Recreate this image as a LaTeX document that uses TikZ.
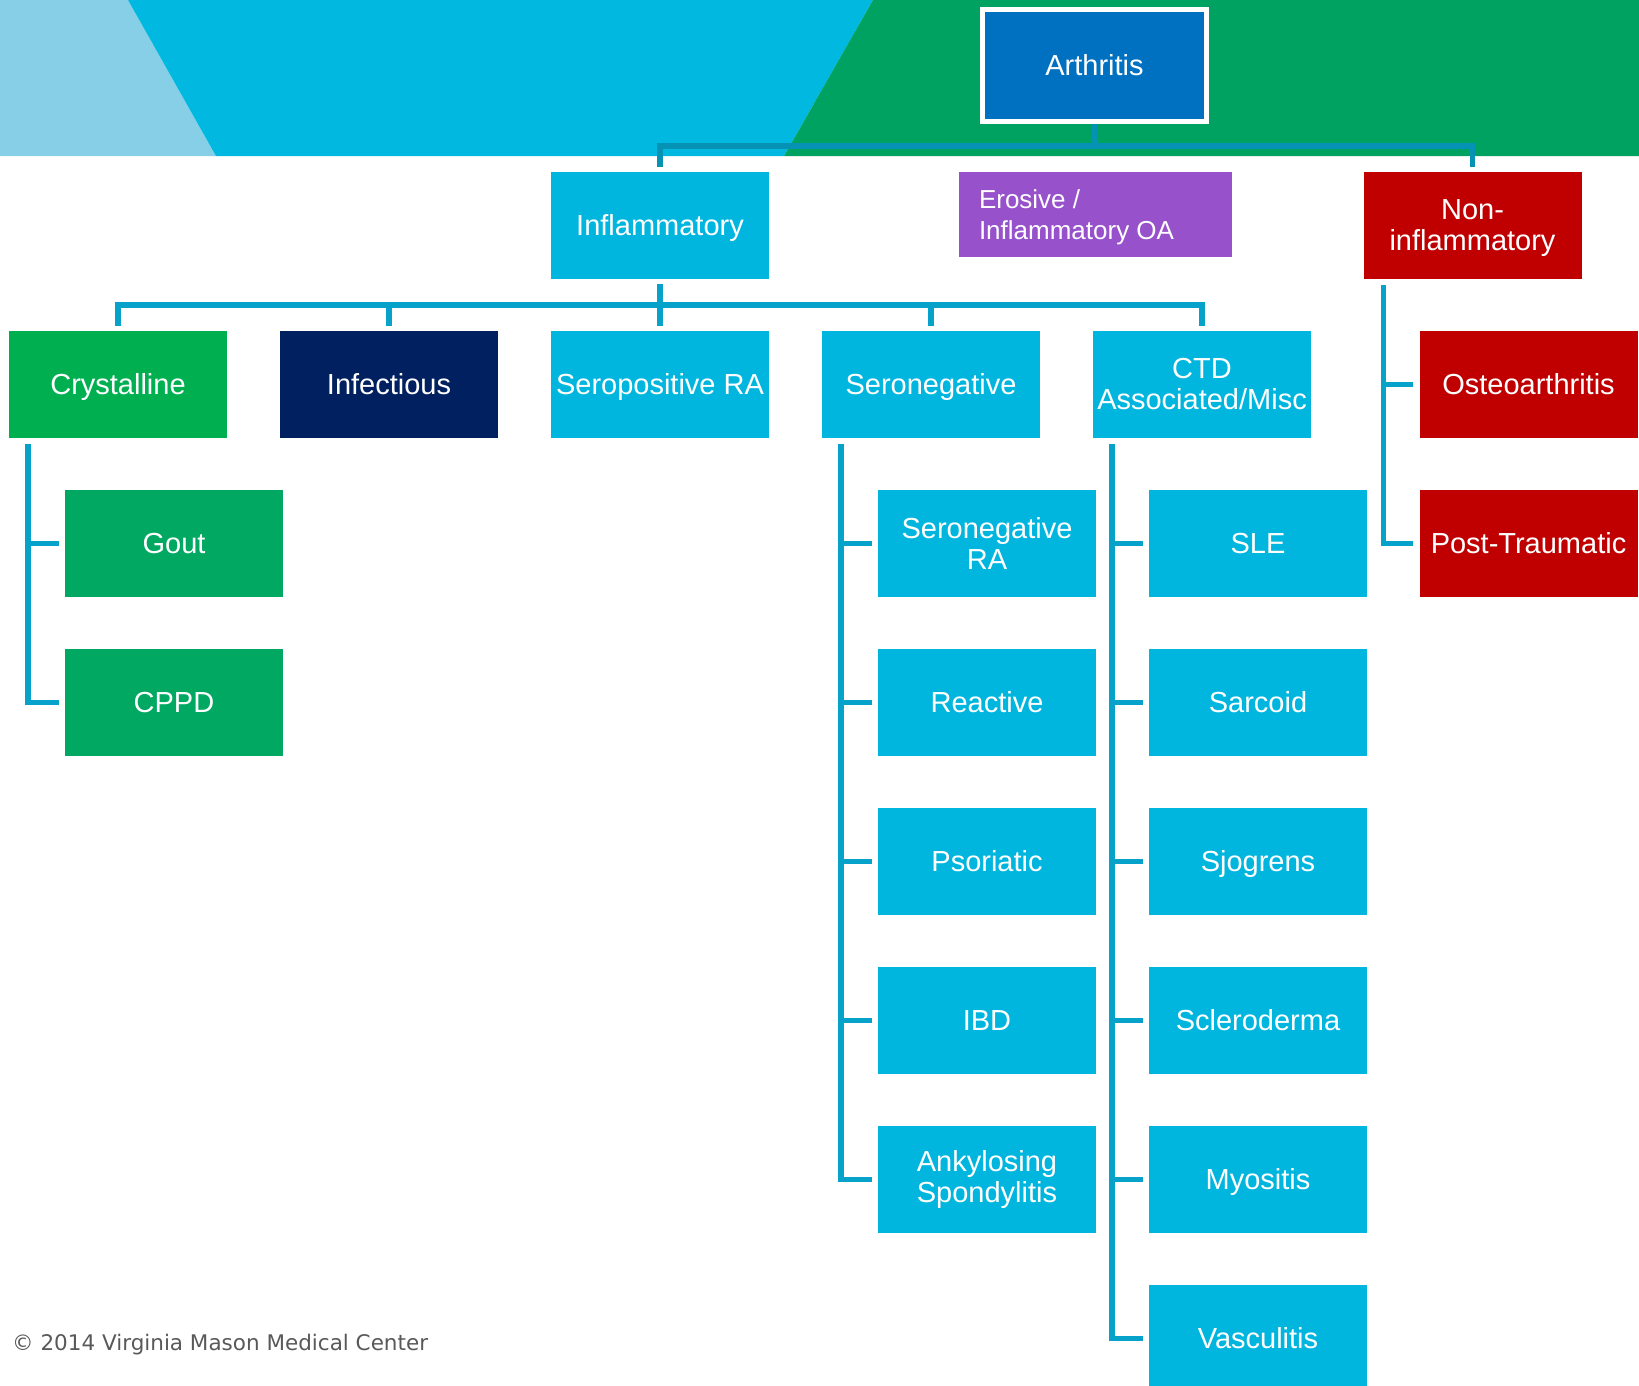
\documentclass[tikz,border=0pt]{standalone}
\usepackage{fontspec}
\setmainfont{Liberation Sans}
\newfontfamily\footfont{DejaVu Sans}
\definecolor{cyanbox}{HTML}{00B6DE}
\definecolor{cyanbanner}{HTML}{00B8E0}
\definecolor{lightbanner}{HTML}{87CFE6}
\definecolor{greenbanner}{HTML}{00A261}
\definecolor{crysgreen}{HTML}{00B050}
\definecolor{subgreen}{HTML}{00A862}
\definecolor{arthblue}{HTML}{0070C0}
\definecolor{navy}{HTML}{002060}
\definecolor{darkred}{HTML}{C00000}
\definecolor{purplebox}{HTML}{9751CB}
\definecolor{linec}{HTML}{06A2CA}
\definecolor{linetop}{HTML}{0592B4}
\definecolor{footgray}{HTML}{595959}
\begin{document}
\begin{tikzpicture}[x=1pt,y=-1pt,
  bx/.style={rectangle, inner sep=0pt, minimum width=218pt, minimum height=107pt,
    text=white, align=center, font=\fontsize{29}{31}\selectfont},
  one/.style={text height=20pt, text depth=0pt},
  cy/.style={bx, one, fill=cyanbox},
  cym/.style={bx, fill=cyanbox},
  gr/.style={bx, one, fill=subgreen},
  rd/.style={bx, one, fill=darkred},
  txt/.style={inner sep=0pt, text=white, font=\fontsize{29}{31}\selectfont},
  conn/.style={draw=linec, line width=5.5pt},
  conntop/.style={draw=linetop, line width=5.5pt}]
\useasboundingbox (0,0) rectangle (1639,1385);
% banner
\fill[lightbanner] (0,0) -- (128,0) -- (216,156) -- (0,156) -- cycle;
\fill[cyanbanner] (128,0) -- (873,0) -- (784,156) -- (216,156) -- cycle;
\fill[greenbanner] (873,0) -- (1639,0) -- (1639,156) -- (784,156) -- cycle;
% top
\node[bx, one, fill=arthblue, draw=white, line width=5pt, minimum width=224pt, minimum height=112pt] (arth) at (1094.5,65.5) {Arthritis};
\node[cy] (infl) at (660,225.5) {Inflammatory};
\node[rectangle, fill=purplebox, minimum width=273pt, minimum height=85pt, inner sep=0pt] (eros) at (1095.5,214.5) {};
\node[txt, anchor=west, align=left, font=\fontsize{26}{31}\selectfont] (erostext) at ([xshift=20pt,yshift=-3pt]eros.west) {Erosive /\\Inflammatory OA};
\node[bx, fill=darkred] (nonin) at (1472.5,225.5) {};
\node[txt, align=center] (nonintext) at ([yshift=-3pt]nonin.center) {Non-\\inflammatory};
% row 2
\node[bx, one, fill=crysgreen] (cryst) at (118,384.5) {Crystalline};
\node[bx, one, fill=navy] (infect) at (389,384.5) {Infectious};
\node[cy] (seropos) at (660,384.5) {Seropositive RA};
\node[cy] (seroneg) at (931,384.5) {Seronegative};
\node[cym] (ctd) at (1202,384.5) {CTD\\Associated/Misc};
\node[rd] (osteo) at (1528.5,384.5) {Osteoarthritis};
% row 3+
\node[gr] (gout) at (174,543.5) {Gout};
\node[gr] (cppd) at (174,702.5) {CPPD};
\node[cym] (snra) at (987,543.5) {Seronegative\\RA};
\node[cy] (react) at (987,702.5) {Reactive};
\node[cy] (psor) at (987,861.5) {Psoriatic};
\node[cy] (ibd) at (987,1020.5) {IBD};
\node[cym] (ankyl) at (987,1179.5) {Ankylosing\\Spondylitis};
\node[cy] (sle) at (1258,543.5) {SLE};
\node[cy] (sarc) at (1258,702.5) {Sarcoid};
\node[cy] (sjog) at (1258,861.5) {Sjogrens};
\node[cy] (scler) at (1258,1020.5) {Scleroderma};
\node[cy] (myos) at (1258,1179.5) {Myositis};
\node[cy] (vasc) at (1258,1338.5) {Vasculitis};
\node[rd] (post) at (1528.5,543.5) {Post-Traumatic};
% connectors top
\coordinate (bus1) at (0,146);
\draw[conntop] (arth.south) -- (arth.south |- bus1);
\draw[conntop] ([yshift=5pt]infl.north) -- (infl.north |- bus1) -- (nonin.north |- bus1) -- ([yshift=5pt]nonin.north);
% inflammatory bus
\coordinate (bus2) at (0,305);
\draw[conn] ([yshift=-5pt]infl.south) -- (infl.south |- bus2);
\draw[conn] ([yshift=5pt]cryst.north) -- (cryst.north |- bus2) -- (ctd.north |- bus2) -- ([yshift=5pt]ctd.north);
\draw[conn] (infect.north |- bus2) -- ([yshift=5pt]infect.north);
\draw[conn] (seropos.north |- bus2) -- ([yshift=5pt]seropos.north);
\draw[conn] (seroneg.north |- bus2) -- ([yshift=5pt]seroneg.north);
% spines
\coordinate (sp1) at ([xshift=-90pt,yshift=-6pt]cryst.south);
\draw[conn] (sp1) |- ([xshift=-6pt]cppd.west);
\draw[conn] (sp1 |- gout.west) -- ([xshift=-6pt]gout.west);
\coordinate (sp2) at ([xshift=-90pt,yshift=-6pt]seroneg.south);
\draw[conn] (sp2) |- ([xshift=-6pt]ankyl.west);
\draw[conn] (sp2 |- snra.west) -- ([xshift=-6pt]snra.west);
\draw[conn] (sp2 |- react.west) -- ([xshift=-6pt]react.west);
\draw[conn] (sp2 |- psor.west) -- ([xshift=-6pt]psor.west);
\draw[conn] (sp2 |- ibd.west) -- ([xshift=-6pt]ibd.west);
\coordinate (sp3) at ([xshift=-90pt,yshift=-6pt]ctd.south);
\draw[conn] (sp3) |- ([xshift=-6pt]vasc.west);
\draw[conn] (sp3 |- sle.west) -- ([xshift=-6pt]sle.west);
\draw[conn] (sp3 |- sarc.west) -- ([xshift=-6pt]sarc.west);
\draw[conn] (sp3 |- sjog.west) -- ([xshift=-6pt]sjog.west);
\draw[conn] (sp3 |- scler.west) -- ([xshift=-6pt]scler.west);
\draw[conn] (sp3 |- myos.west) -- ([xshift=-6pt]myos.west);
\coordinate (sp4) at ([xshift=-89pt,yshift=-6pt]nonin.south);
\draw[conn] (sp4) |- ([xshift=-6pt]post.west);
\draw[conn] (sp4 |- osteo.west) -- ([xshift=-6pt]osteo.west);
% footer
\node[anchor=base west, inner sep=0pt, text=footgray, font=\footfont\fontsize{21.5}{25}\selectfont] (foot) at (12,1350) {© 2014 Virginia Mason Medical Center};
\end{tikzpicture}
\end{document}
